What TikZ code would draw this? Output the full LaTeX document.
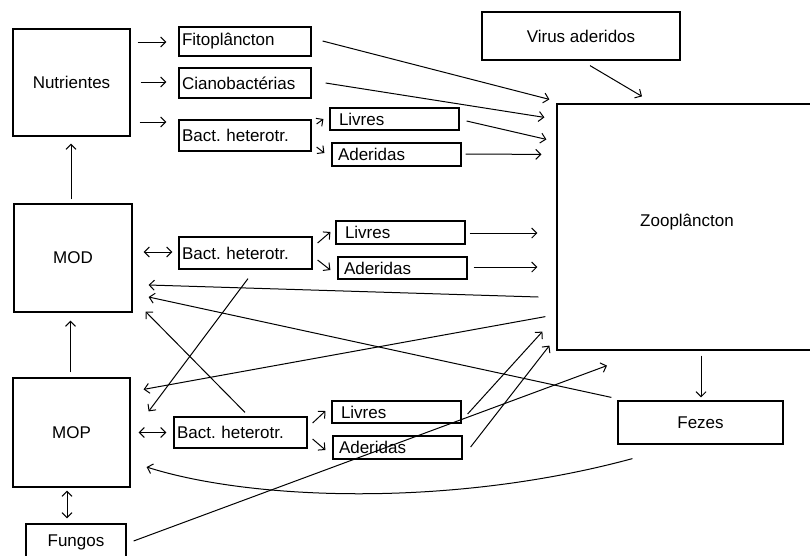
\documentclass[tikz,border=0pt]{standalone}
\usepackage{fontspec}
\setmainfont{Liberation Sans}
\usetikzlibrary{arrows.meta}
\begin{document}
\frenchspacing
\begin{tikzpicture}[x=1pt,y=-1pt,
  every node/.style={font=\fontsize{17}{19}\selectfont},
  bigbox/.style={draw,line width=1.2pt,inner sep=0pt,anchor=center},
  sbox/.style={draw,line width=1.2pt,inner ysep=0pt,anchor=center,align=left},
  conn/.style={line width=1pt},
  arr/.style={conn,-{Straight Barb[length=5pt,width=10pt]}},
  darr/.style={conn,{Straight Barb[length=5pt,width=10pt]}-{Straight Barb[length=5pt,width=10pt]}}]
\clip (0,0) rectangle (810,555);
\fill[white] (0,0) rectangle (810,555);
% nodes
\node[bigbox,minimum width=117,minimum height=107] (nut) at (71.5,82.5) {Nutrientes};
\node[sbox,minimum height=29,inner xsep=3,text width=126] (fito) at (245,41.5) {Fitoplâncton};
\node[sbox,minimum height=30,inner xsep=3,text width=126] (ciano) at (245,83) {Cianobactérias};
\node[sbox,minimum height=31,inner xsep=3,text width=126] (bact1) at (245,135.5) {Bact. heterotr.};
\node[sbox,minimum height=22,inner xsep=9,text width=111] (liv1) at (394.5,119) {Livres};
\node[sbox,minimum height=23,inner xsep=6,text width=117] (ade1) at (396.5,154.5) {Aderidas};
\node[bigbox,minimum width=198,minimum height=48] (virus) at (581,36) {Virus aderidos};
\node[bigbox,minimum width=260,minimum height=246] (zoo) at (687,227) {};
\node (zootxt) at (687,222) {Zooplâncton};
\node[bigbox,minimum width=118,minimum height=108] (mod) at (73,258) {MOD};
\node[sbox,minimum height=32,inner xsep=3,text width=127] (bact2) at (245.5,253) {Bact. heterotr.};
\node[sbox,minimum height=23,inner xsep=9,text width=111] (liv2) at (400.5,232.5) {Livres};
\node[sbox,minimum height=22,inner xsep=6,text width=117] (ade2) at (402.5,268) {Aderidas};
\node[bigbox,minimum width=117,minimum height=109] (mop) at (71.5,432.5) {MOP};
\node[bigbox,minimum width=100,minimum height=36] (fungos) at (76,542) {Fungos};
\node[sbox,minimum height=31,inner xsep=3,text width=127] (bact3) at (240.5,432.5) {Bact. heterotr.};
\node[sbox,minimum height=22,inner xsep=9,text width=111] (liv3) at (396.5,412) {Livres};
\node[sbox,minimum height=23,inner xsep=6,text width=117] (ade3) at (397.5,447.5) {Aderidas};
\node[bigbox,minimum width=165,minimum height=43] (fezes) at (700.5,422.5) {Fezes};
% short arrows
\draw[arr] ([shift={(7,-40.5)}]nut.east) -- ([shift={(-12,0.5)}]fito.west);
\draw[arr] ([shift={(10,-0.5)}]nut.east) -- ([shift={(-12,-1)}]ciano.west);
\draw[arr] ([shift={(9,39.5)}]nut.east) -- ([shift={(-12,-13.5)}]bact1.west);
\draw[arr] ([shift={(-2,-4)}]mod.north) -- ([shift={(-0.5,7)}]nut.south);
\draw[darr] ([shift={(11,-6)}]mod.east) -- ([shift={(-6,-1)}]bact2.west);
\draw[arr] ([shift={(-1,-5)}]mop.north) -- ([shift={(-2.5,8)}]mod.south);
\draw[darr] ([shift={(8,0)}]mop.east) -- ([shift={(-7,0)}]bact3.west);
\draw[darr] ([shift={(-4.5,3)}]mop.south) -- ([shift={(-9,-5)}]fungos.north);
\draw[arr] ([shift={(5,-11.5)}]bact1.east) -- ([shift={(-6,0)}]liv1.west);
\draw[arr] ([shift={(5,11.5)}]bact1.east) -- ([shift={(-7,-1.5)}]ade1.west);
\draw[arr] ([shift={(5,-10)}]bact2.east) -- ([shift={(-5,-0.5)}]liv2.west);
\draw[arr] ([shift={(5,7)}]bact2.east) -- ([shift={(-7,2)}]ade2.west);
\draw[arr] ([shift={(5,-9.5)}]bact3.east) -- ([shift={(-6,-1)}]liv3.west);
\draw[arr] ([shift={(5,6.5)}]bact3.east) -- ([shift={(-7,2.5)}]ade3.west);
% to zooplankton
\draw[arr] ([shift={(11,-0.5)}]fito.east) -- ([shift={(-7,-4)}]zoo.north west);
\draw[arr] ([shift={(14,0)}]ciano.east) -- ([shift={(-12,14)}]zoo.north west);
\draw[arr] ([shift={(7,2)}]liv1.east) -- ([shift={(-10,36)}]zoo.north west);
\draw[arr] ([shift={(4,-0.5)}]ade1.east) -- ([shift={(-15,51)}]zoo.north west);
\draw[arr] ([shift={(9,5)}]virus.south) -- ([shift={(-45,-7)}]zoo.north);
\draw[arr] ([shift={(4,0.5)}]liv2.east) -- ([shift={(-19,6)}]zoo.west);
\draw[arr] ([shift={(6,-1)}]ade2.east) -- ([shift={(-19,40)}]zoo.west);
\draw[arr] ([shift={(6,2)}]liv3.east) -- ([shift={(-14,-19)}]zoo.south west);
\draw[arr] ([shift={(8,-0.5)}]ade3.east) -- ([shift={(-7,-5)}]zoo.south west);
\draw[arr] ([shift={(7,-1)}]fungos.east) -- ([shift={(-80,15)}]zoo.south);
% returns
\draw[arr] ([shift={(-18,70)}]zoo.west) -- ([shift={(16,27)}]mod.east);
\draw[arr] ([shift={(-6,-3)}]fezes.north west) -- ([shift={(16,39)}]mod.east);
\draw[arr] ([shift={(4.5,-4)}]bact3.north) -- ([shift={(13,-1)}]mod.south east);
\draw[arr] ([shift={(2.5,9)}]bact2.south) -- ([shift={(18,34)}]mop.north east);
\draw[arr] ([shift={(-11,-34)}]zoo.south west) -- ([shift={(13,12)}]mop.north east);
\draw[arr] ([shift={(15,14)}]fezes.south west) .. controls (450,508) and (250,500) .. ([shift={(16,34.5)}]mop.east);
\draw[arr] ([shift={(14,5)}]zoo.south) -- ([shift={(0.5,-3)}]fezes.north);
\end{tikzpicture}
\end{document}
